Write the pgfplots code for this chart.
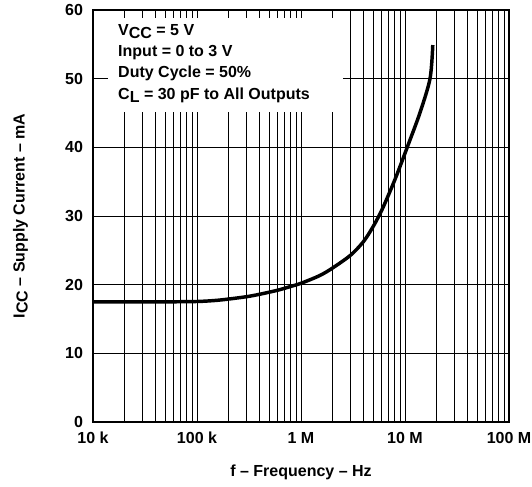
\documentclass[border=0pt]{standalone}
\usepackage{pgfplots}
\pgfplotsset{compat=1.18}
\usepackage{fontspec}
\setmainfont{Liberation Sans}

% lowered subscript in TI datasheet style
\newcommand{\sub}[1]{\raisebox{-0.35ex}{#1}}

\begin{document}
\begin{tikzpicture}
\begin{axis}[
    scale only axis,
    width=312pt, height=309pt,
    xmode=log,
    xmin=1e4, xmax=1e8,
    ymin=0, ymax=60,
    xtick={1e4,1e5,1e6,1e7,1e8},
    xticklabels={10 k,100 k,1 M,10 M,100 M},
    ytick={0,10,20,30,40,50,60},
    major tick length=0pt, minor tick length=0pt,
    grid=both,
    ymajorgrids=true, yminorgrids=false,
    xmajorgrids=true, xminorgrids=true,
    major grid style={black, line width=0.7pt},
    minor grid style={black, line width=0.7pt},
    axis line style={black, line width=1.5pt},
    /pgf/number format/assume math mode=true,
    ticklabel style={font=\fontsize{12}{14}\selectfont\bfseries},
    xticklabel style={yshift=-4pt},
    yticklabel style={xshift=-4pt},
    label style={font=\fontsize{12}{14}\selectfont\bfseries},
    xlabel={f -- Frequency -- Hz},
    ylabel={I\sub{CC} -- Supply Current -- mA},
    xlabel style={yshift=-9pt},
    ylabel style={yshift=21pt},
]
\addplot[black, line width=2.6pt, smooth] coordinates {
    (1e4,17.5) (2e4,17.5) (5e4,17.5) (1e5,17.55) (1.5e5,17.7)
    (2e5,17.9) (3e5,18.25) (4e5,18.6) (6e5,19.2) (8e5,19.75)
    (1e6,20.2) (1.5e6,21.3) (2e6,22.4) (3e6,24.3) (4e6,26.3) (5e6,28.6)
    (6e6,30.9) (7e6,33.2) (8e6,35.3) (9e6,37.3) (1.05e7,40.0)
    (1.39e7,45.0) (1.74e7,50.0) (1.85e7,54.9)
};
\fill[white] (rel axis cs:0.036,0.981) rectangle (rel axis cs:0.601,0.752);
\node[anchor=north west, inner sep=0pt, align=left,
      font=\fontsize{12}{16}\selectfont\bfseries]
    at (rel axis cs:0.060,0.966) {%
    V\sub{CC} = 5 V\\
    Input = 0 to 3 V\\
    Duty Cycle = 50\%\\
    C\sub{L} = 30 pF to All Outputs};
\end{axis}
\pgfresetboundingbox
\path[use as bounding box] (-69.75pt,-48pt) rectangle (329.25pt,316.5pt);
\end{tikzpicture}
\end{document}
